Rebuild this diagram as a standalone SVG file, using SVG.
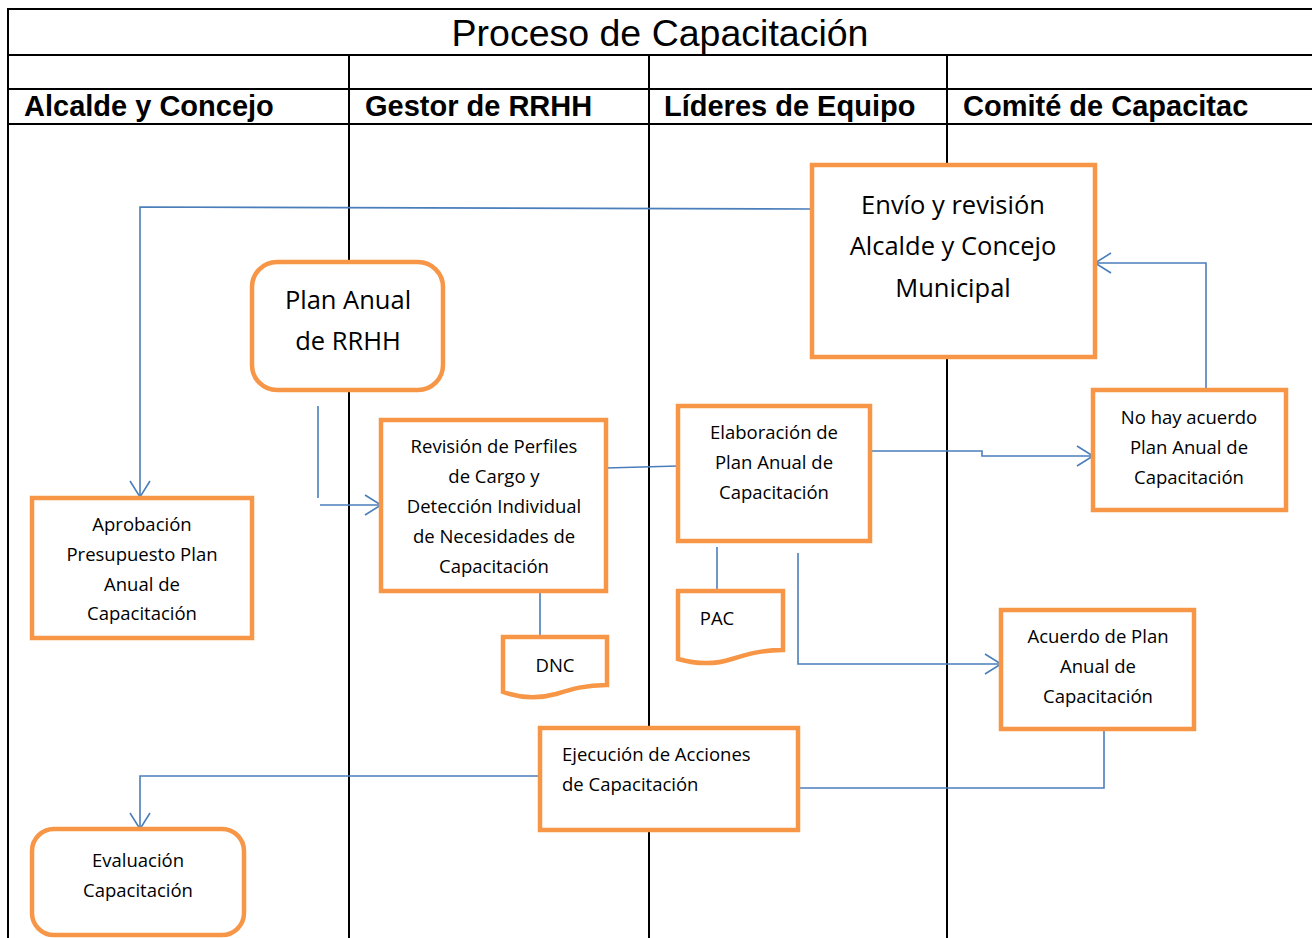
<svg xmlns="http://www.w3.org/2000/svg" width="1312" height="938" viewBox="0 0 1312 938">
<style>
.lane{stroke:#000;stroke-width:2;fill:none}
.box{fill:#fff;stroke:#F79646;stroke-width:4.5}
.con{fill:none;stroke:#4A7EBB;stroke-width:1.6}
.t{font-family:"Open Sans",Lato,sans-serif;fill:#000;text-anchor:middle}
.hd{font-family:"Liberation Sans",Arial,sans-serif;font-weight:bold;font-size:29px;fill:#000}
</style>
<defs>
<marker id="arr" markerWidth="20" markerHeight="24" refX="17" refY="12" orient="auto" markerUnits="userSpaceOnUse">
<path d="M1,2 L17,12 L1,22" fill="none" stroke="#4A7EBB" stroke-width="1.6"/>
</marker>
</defs>
<rect width="1312" height="938" fill="#fff"/>
<g id="swimlanes">
<path class="lane" d="M8,938 V9 H1312 M8,55 H1312 M8,89 H1312 M8,124 H1312 M349,55 V938 M649,55 V938 M947,55 V938"/>
<text x="660" y="46" font-family="'Liberation Sans',Arial,sans-serif" font-size="37.5" text-anchor="middle">Proceso de Capacitación</text>
<text class="hd" x="24" y="116">Alcalde y Concejo</text>
<text class="hd" x="365" y="116">Gestor de RRHH</text>
<text class="hd" x="664" y="116">Líderes de Equipo</text>
<text class="hd" x="963" y="116">Comité de Capacitac</text>
</g>
<g id="connectors">
<path class="con" d="M812,209 L140,207 V497" marker-end="url(#arr)"/>
<path class="con" d="M318,406 V498"/>
<path class="con" d="M320,505 H381" marker-end="url(#arr)"/>
<path class="con" d="M606,468 L678,466"/>
<path class="con" d="M870,451 H982 V456 H1093" marker-end="url(#arr)"/>
<path class="con" d="M1206,390 V263 H1095" marker-end="url(#arr)"/>
<path class="con" d="M717,547 V591"/>
<path class="con" d="M540,591 V637"/>
<path class="con" d="M798,553 V664 H1001" marker-end="url(#arr)"/>
<path class="con" d="M1104,729 V788 H798"/>
<path class="con" d="M540,776 H140 V829" marker-end="url(#arr)"/>
</g>
<g id="envio">
<rect class="box" x="812" y="165" width="283" height="192"/>
<text class="t" font-size="25.5"><tspan x="953" y="214">Envío y revisión</tspan><tspan x="953" y="255">Alcalde y Concejo</tspan><tspan x="953" y="297">Municipal</tspan></text>
</g>
<g id="plan-anual-rrhh">
<rect class="box" x="252" y="262" width="191" height="128" rx="25"/>
<text class="t" font-size="25.5"><tspan x="348" y="309">Plan Anual</tspan><tspan x="348" y="350">de RRHH</tspan></text>
</g>
<g id="revision">
<rect class="box" x="381" y="420" width="225" height="171"/>
<text class="t" font-size="18.5"><tspan x="494" y="453">Revisión de Perfiles</tspan><tspan x="494" y="483">de Cargo y</tspan><tspan x="494" y="513">Detección Individual</tspan><tspan x="494" y="543">de Necesidades de</tspan><tspan x="494" y="573">Capacitación</tspan></text>
</g>
<g id="elaboracion">
<rect class="box" x="678" y="406" width="192" height="135"/>
<text class="t" font-size="18.5"><tspan x="774" y="439">Elaboración de</tspan><tspan x="774" y="469">Plan Anual de</tspan><tspan x="774" y="499">Capacitación</tspan></text>
</g>
<g id="no-acuerdo">
<rect class="box" x="1093" y="390" width="193" height="120"/>
<text class="t" font-size="18.5"><tspan x="1189" y="424">No hay acuerdo</tspan><tspan x="1189" y="454">Plan Anual de</tspan><tspan x="1189" y="484">Capacitación</tspan></text>
</g>
<g id="aprobacion">
<rect class="box" x="32" y="498" width="220" height="140"/>
<text class="t" font-size="18.5"><tspan x="142" y="531">Aprobación</tspan><tspan x="142" y="561">Presupuesto Plan</tspan><tspan x="142" y="591">Anual de</tspan><tspan x="142" y="620">Capacitación</tspan></text>
</g>
<g id="dnc">
<path class="box" d="M503,637 H607 V685 C585,685 572,689 556,694 C538,699 520,698 503,692 Z"/>
<text class="t" font-size="18.5" x="555" y="672">DNC</text>
</g>
<g id="pac">
<path class="box" d="M678,591 H783 V650 C762,650 748,654 732,659 C714,665 696,664 678,659 Z"/>
<text class="t" font-size="18.5" x="717" y="625">PAC</text>
</g>
<g id="acuerdo">
<rect class="box" x="1001" y="610" width="193" height="119"/>
<text class="t" font-size="18.5"><tspan x="1098" y="643">Acuerdo de Plan</tspan><tspan x="1098" y="673">Anual de</tspan><tspan x="1098" y="703">Capacitación</tspan></text>
</g>
<g id="ejecucion">
<rect class="box" x="540" y="728" width="258" height="102"/>
<text class="t" font-size="18.5" style="text-anchor:start"><tspan x="562" y="761">Ejecución de Acciones</tspan><tspan x="562" y="791">de Capacitación</tspan></text>
</g>
<g id="evaluacion">
<rect class="box" x="32" y="829" width="212" height="106" rx="22"/>
<text class="t" font-size="18.5"><tspan x="138" y="867">Evaluación</tspan><tspan x="138" y="897">Capacitación</tspan></text>
</g>
</svg>
